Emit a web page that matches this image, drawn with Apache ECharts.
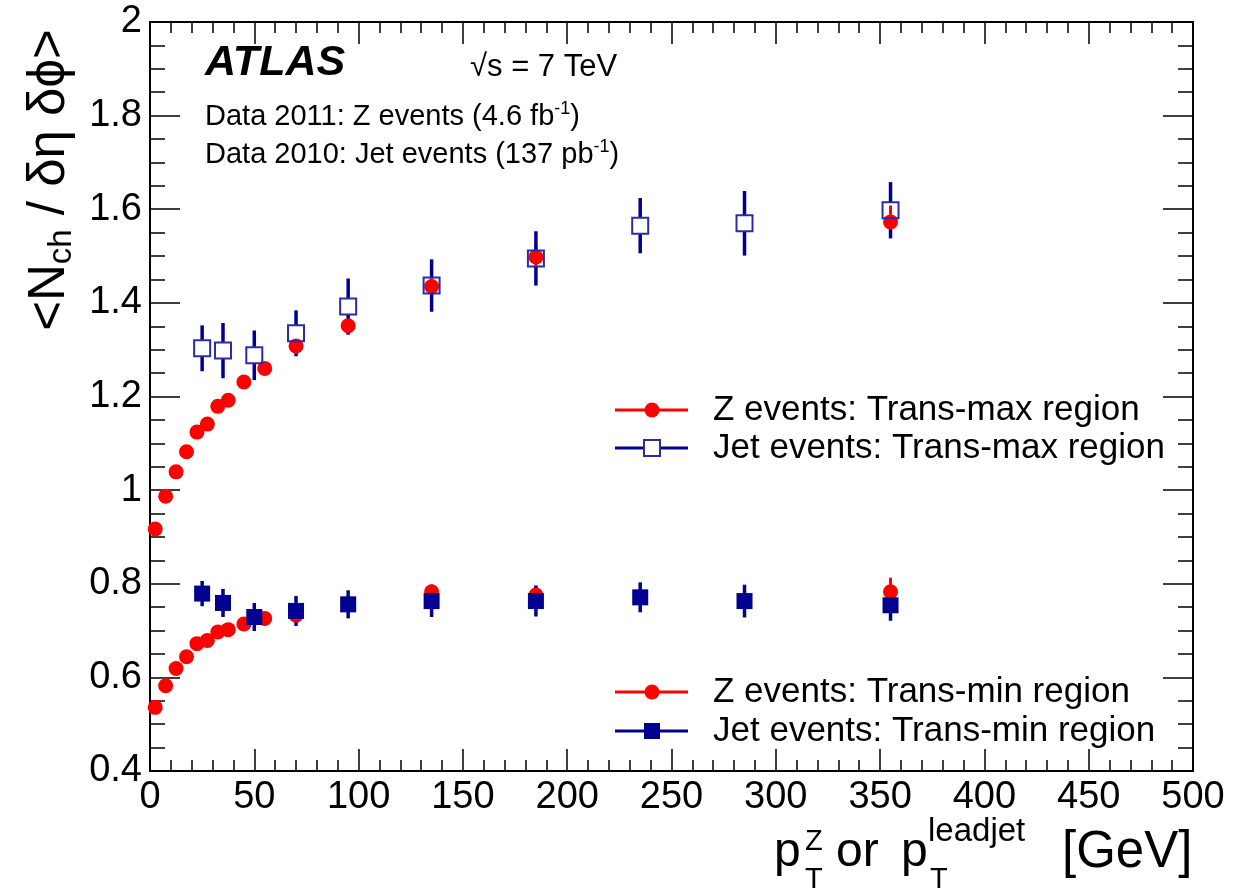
<!DOCTYPE html>
<html>
<head>
<meta charset="utf-8">
<title>ATLAS Nch density, trans-max / trans-min</title>
<script src="https://cdn.jsdelivr.net/npm/echarts@6/dist/echarts.min.js"></script>
<style>
html, body { margin: 0; padding: 0; background: #fff; }
#chart { width: 1236px; height: 895px; }
</style>
</head>
<body>
<div id="chart"></div>
<script>
// Z events (2011), pT^Z bins
var zX = [2.5, 7.5, 12.5, 17.5, 22.5, 27.5, 32.5, 37.5, 45, 55, 70, 95, 135, 185, 355];
var zMaxY = [0.917, 0.987, 1.039, 1.082, 1.124, 1.141, 1.179, 1.192, 1.231, 1.26, 1.308, 1.351, 1.435, 1.498, 1.573];
var zMaxErr = [0.006, 0.006, 0.006, 0.006, 0.006, 0.006, 0.007, 0.007, 0.007, 0.008, 0.01, 0.013, 0.02, 0.025, 0.035];
var zMinY = [0.536, 0.582, 0.619, 0.644, 0.672, 0.679, 0.697, 0.702, 0.714, 0.726, 0.733, 0.755, 0.783, 0.776, 0.783];
var zMinErr = [0.004, 0.004, 0.004, 0.004, 0.004, 0.004, 0.005, 0.005, 0.005, 0.006, 0.008, 0.01, 0.015, 0.02, 0.03];

// Jet events (2010), leading jet pT bins
var jetX = [25, 35, 50, 70, 95, 135, 185, 235, 285, 355];
var jetMaxY = [1.303, 1.298, 1.288, 1.335, 1.392, 1.437, 1.495, 1.565, 1.57, 1.598];
var jetMaxErr = [0.049, 0.059, 0.053, 0.049, 0.06, 0.056, 0.058, 0.059, 0.069, 0.06];
var jetMinY = [0.779, 0.759, 0.729, 0.742, 0.756, 0.763, 0.763, 0.771, 0.763, 0.754];
var jetMinErr = [0.027, 0.03, 0.03, 0.032, 0.03, 0.034, 0.033, 0.032, 0.035, 0.033];

// axis ranges
var xMin = 0, xMax = 500, xStep = 50;
var yMin = 0.4, yMax = 2, yStep = 0.2;

var FONT = '"Liberation Sans", Arial, Helvetica, sans-serif';
var RED = '#ff0000';
var NAVY = '#000090';
var OPENBLUE = '#2b2ba6';

function pairs(xs, ys) {
	return xs.map(function (x, i) { return [x, ys[i]]; });
}

// vertical error bars; gap leaves the inside of an open marker empty
function errorBars(xs, ys, errs, color, width, gap) {
	return {
		type: 'custom',
		silent: true,
		clip: true,
		encode: { x: 0, y: [1, 2] },
		data: xs.map(function (x, i) { return [x, ys[i] - errs[i], ys[i] + errs[i], ys[i]]; }),
		renderItem: function (params, api) {
			var x = api.value(0);
			var lo = api.coord([x, api.value(1)]);
			var hi = api.coord([x, api.value(2)]);
			var mid = api.coord([x, api.value(3)]);
			var st = { stroke: color, lineWidth: width };
			var kids = [];
			if (gap > 0) {
				if (mid[1] - hi[1] > gap) kids.push({ type: 'line', shape: { x1: hi[0], y1: hi[1], x2: hi[0], y2: mid[1] - gap }, style: st });
				if (lo[1] - mid[1] > gap) kids.push({ type: 'line', shape: { x1: lo[0], y1: mid[1] + gap, x2: lo[0], y2: lo[1] }, style: st });
			} else {
				kids.push({ type: 'line', shape: { x1: hi[0], y1: hi[1], x2: lo[0], y2: lo[1] }, style: st });
			}
			return { type: 'group', children: kids };
		}
	};
}

function axisCommon(isX, showLabel, pos) {
	return {
		type: 'value',
		position: pos,
		min: isX ? xMin : yMin,
		max: isX ? xMax : yMax,
		interval: isX ? xStep : yStep,
		axisLine: { show: true, onZero: false, lineStyle: { color: '#000', width: 2 } },
		axisTick: { show: true, inside: true, length: isX ? 22 : 30, lineStyle: { color: '#000', width: 1.5 } },
		minorTick: { show: true, splitNumber: isX ? 5 : 4, length: isX ? 11 : 15, lineStyle: { color: '#000', width: 1.5 } },
		axisLabel: { show: showLabel, fontSize: 38, color: '#000', fontFamily: FONT, margin: 8 },
		splitLine: { show: false },
		minorSplitLine: { show: false }
	};
}

function legendRow(y, color, marker, label) {
	var items = [
		{ type: 'line', shape: { x1: 615, y1: y, x2: 688, y2: y }, style: { stroke: color, lineWidth: 3 } }
	];
	if (marker === 'circle') {
		items.push({ type: 'circle', shape: { cx: 652, cy: y, r: 7.5 }, style: { fill: color } });
	} else if (marker === 'open') {
		items.push({ type: 'rect', shape: { x: 644, y: y - 8, width: 16, height: 16 }, style: { fill: '#fff', stroke: OPENBLUE, lineWidth: 2 } });
	} else {
		items.push({ type: 'rect', shape: { x: 644, y: y - 8, width: 16, height: 16 }, style: { fill: color } });
	}
	items.push({ type: 'text', x: 713, y: y, style: { text: label, fontSize: 35, fontFamily: FONT, fill: '#000', verticalAlign: 'middle' } });
	return items;
}

var chart = echarts.init(document.getElementById('chart'));

var graphics = [
	{ type: 'text', x: 205, y: 63, style: { text: 'ATLAS', fontSize: 43, fontWeight: 'bold', fontStyle: 'italic', fontFamily: FONT, fill: '#000', verticalAlign: 'middle' } },
	{ type: 'text', x: 470, y: 67, style: { text: '\u221As = 7 TeV', fontSize: 31, fontFamily: FONT, fill: '#000', verticalAlign: 'middle' } },
	{
		type: 'text', x: 205, y: 117,
		style: {
			text: '{n|Data 2011: Z events (4.6 fb}{s|-1}{n|)}',
			fontFamily: FONT, fill: '#000', verticalAlign: 'middle',
			rich: { n: { fontSize: 29, lineHeight: 34, fontFamily: FONT }, s: { fontSize: 18, lineHeight: 16, verticalAlign: 'top', fontFamily: FONT } }
		}
	},
	{
		type: 'text', x: 205, y: 155,
		style: {
			text: '{n|Data 2010: Jet events (137 pb}{s|-1}{n|)}',
			fontFamily: FONT, fill: '#000', verticalAlign: 'middle',
			rich: { n: { fontSize: 29, lineHeight: 34, fontFamily: FONT }, s: { fontSize: 18, lineHeight: 16, verticalAlign: 'top', fontFamily: FONT } }
		}
	},
	// y axis title
	{
		type: 'text', x: 50, y: 180, rotation: Math.PI / 2,
		style: {
			text: '{n|<N}{b|ch}{n| / \u03B4\u03B7 \u03B4\u03D5>}',
			fill: '#000', align: 'center', verticalAlign: 'middle',
			rich: { n: { fontSize: 51, lineHeight: 56, fontFamily: FONT }, b: { fontSize: 33, lineHeight: 18, verticalAlign: 'bottom', fontFamily: FONT } }
		}
	},
	// x axis title pieces
	{ type: 'text', x: 774, y: 853, style: { text: 'p', fontSize: 48, fontFamily: FONT, fill: '#000', verticalAlign: 'middle' } },
	{ type: 'text', x: 805, y: 842, style: { text: 'Z', fontSize: 29, fontFamily: FONT, fill: '#000', verticalAlign: 'middle' } },
	{ type: 'text', x: 805, y: 880, style: { text: 'T', fontSize: 29, fontFamily: FONT, fill: '#000', verticalAlign: 'middle' } },
	{ type: 'text', x: 836, y: 853, style: { text: 'or', fontSize: 48, fontFamily: FONT, fill: '#000', verticalAlign: 'middle' } },
	{ type: 'text', x: 901, y: 853, style: { text: 'p', fontSize: 48, fontFamily: FONT, fill: '#000', verticalAlign: 'middle' } },
	{ type: 'text', x: 928, y: 832, style: { text: 'leadjet', fontSize: 33, fontFamily: FONT, fill: '#000', verticalAlign: 'middle' } },
	{ type: 'text', x: 930, y: 880, style: { text: 'T', fontSize: 29, fontFamily: FONT, fill: '#000', verticalAlign: 'middle' } },
	{ type: 'text', x: 1062, y: 853, style: { text: '[GeV]', fontSize: 51, fontFamily: FONT, fill: '#000', verticalAlign: 'middle' } }
]
	.concat(legendRow(410, RED, 'circle', 'Z events: Trans-max region'))
	.concat(legendRow(448, NAVY, 'open', 'Jet events: Trans-max region'))
	.concat(legendRow(692, RED, 'circle', 'Z events: Trans-min region'))
	.concat(legendRow(731, NAVY, 'filled', 'Jet events: Trans-min region'));

var option = {
	animation: false,
	backgroundColor: '#fff',
	grid: { left: 150, right: 43, top: 22, bottom: 124 },
	xAxis: [axisCommon(true, true, 'bottom'), axisCommon(true, false, 'top')],
	yAxis: [axisCommon(false, true, 'left'), axisCommon(false, false, 'right')],
	graphic: graphics,
	series: [
		errorBars(zX, zMaxY, zMaxErr, RED, 3, 0),
		{ type: 'scatter', name: 'Z max', data: pairs(zX, zMaxY), symbol: 'circle', symbolSize: 15, itemStyle: { color: RED, opacity: 1 } },
		errorBars(zX, zMinY, zMinErr, RED, 3, 0),
		{ type: 'scatter', name: 'Z min', data: pairs(zX, zMinY), symbol: 'circle', symbolSize: 15, itemStyle: { color: RED, opacity: 1 } },
		errorBars(jetX, jetMaxY, jetMaxErr, NAVY, 3.5, 8),
		{ type: 'scatter', name: 'Jet max', data: pairs(jetX, jetMaxY), symbol: 'rect', symbolSize: [16, 16], itemStyle: { color: 'rgba(255,255,255,0)', borderColor: OPENBLUE, borderWidth: 2, opacity: 1 } },
		errorBars(jetX, jetMinY, jetMinErr, NAVY, 3.5, 0),
		{ type: 'scatter', name: 'Jet min', data: pairs(jetX, jetMinY), symbol: 'rect', symbolSize: [16, 16], itemStyle: { color: NAVY, opacity: 1 } }
	]
};

chart.setOption(option);
</script>
</body>
</html>
